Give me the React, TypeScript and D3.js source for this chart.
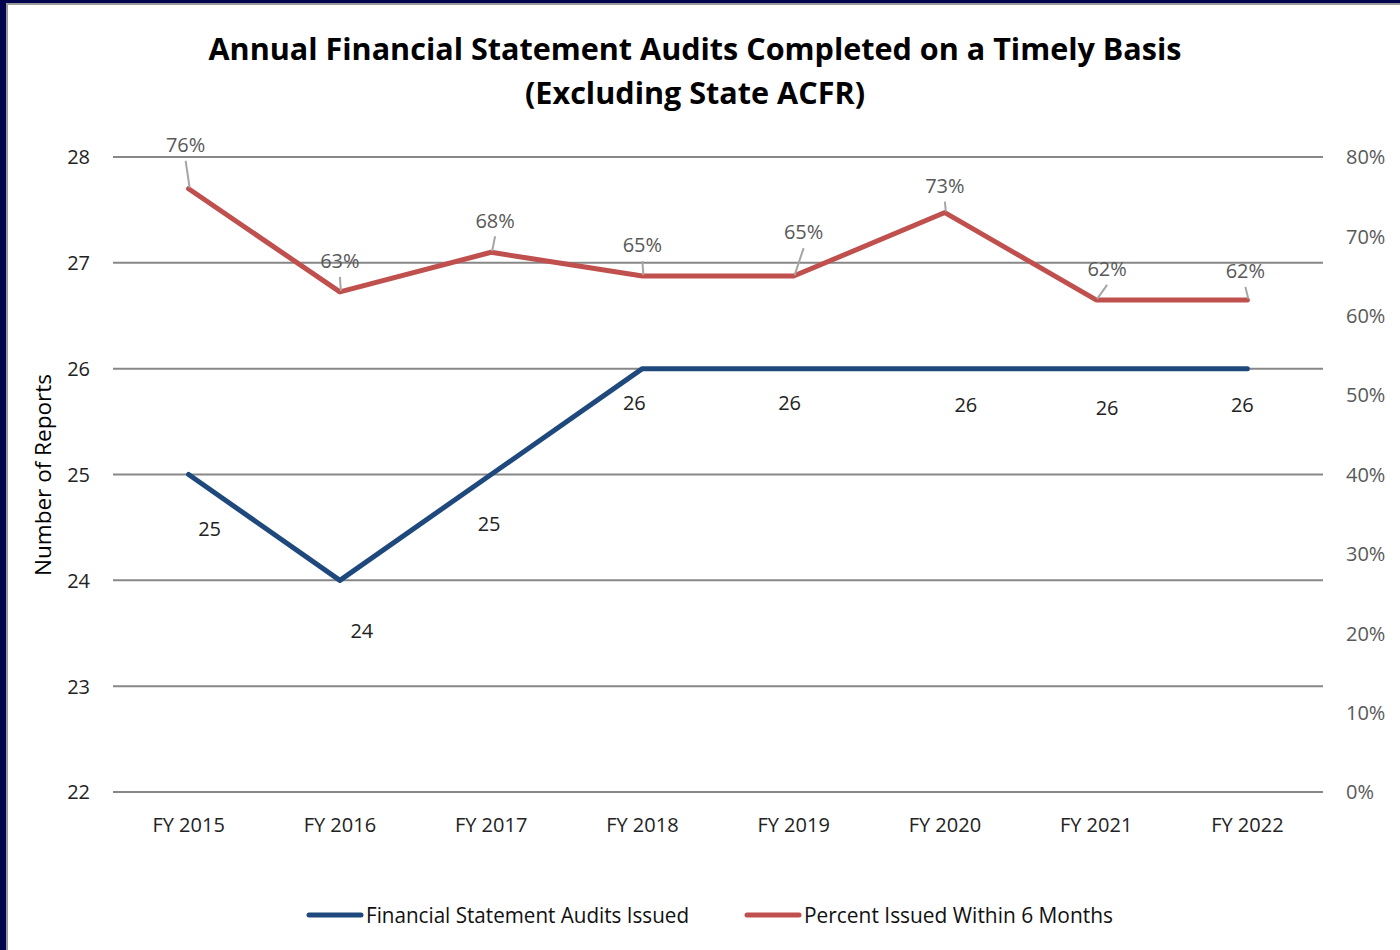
import React from "react";
import * as d3 from "d3";

const categories = ["FY 2015", "FY 2016", "FY 2017", "FY 2018", "FY 2019", "FY 2020", "FY 2021", "FY 2022"];
const auditsIssued = [25, 24, 25, 26, 26, 26, 26, 26];
const percentWithin6 = [0.76, 0.63, 0.68, 0.65, 0.65, 0.73, 0.62, 0.62];
const leftTicks = [22, 23, 24, 25, 26, 27, 28];
const rightTicks = [0, 0.1, 0.2, 0.3, 0.4, 0.5, 0.6, 0.7, 0.8];
const titleLines = ["Annual Financial Statement Audits Completed on a Timely Basis", "(Excluding State ACFR)"];
const seriesNames = ["Financial Statement Audits Issued", "Percent Issued Within 6 Months"];

// label placement offsets (layout only)
const blueLabelOffsets: [number, number][] = [[21, 54], [22, 50], [-2, 49], [-8, 34], [-4, 34], [21, 36], [11, 39], [-5, 36]];
const redLabelOffsets: [number, number][] = [[-3, -44], [0, -31], [4, -32], [0, -31], [10, -44], [0, -27], [11, -31], [-2, -29]];

const W = 1400;
const H = 950;
const FONT = "'Open Sans', 'Noto Sans', sans-serif";
const BLUE = "#1F497D";
const RED = "#C0504D";
const TY = 2; // text vertical nudge

export default function App() {
  const x = d3.scaleBand<string>().domain(categories).range([113, 1323]).padding(0);
  const cx = (c: string) => (x(c) as number) + x.bandwidth() / 2;
  const yL = d3.scaleLinear().domain([22, 28]).range([792, 157]);
  const yR = d3.scaleLinear().domain([0, 0.8]).range([792, 157]);

  const blueLine = d3.line<number>().x((_, i) => cx(categories[i])).y((d) => yL(d));
  const redLine = d3.line<number>().x((_, i) => cx(categories[i])).y((d) => yR(d));

  return (
    <div style={{ position: "fixed", left: 0, top: 0 }}>
      <svg width={W} height={H} style={{ display: "block" }} fontFamily={FONT}>
        <rect x={0} y={0} width={W} height={H} fill="#03034f" />
        <rect x={7} y={4} width={W} height={H} fill="#ffffff" stroke="#9a9a9a" strokeWidth={2} />

        {titleLines.map((t, i) => (
          <text key={t} x={695} y={50 + TY + i * 44} textAnchor="middle" dominantBaseline="middle" fontSize={30} fontWeight="bold" fill="#000" textLength={i === 0 ? 973 : 340} lengthAdjust="spacingAndGlyphs">
            {t}
          </text>
        ))}

        {leftTicks.map((t) => (
          <g key={t}>
            <line x1={113} x2={1323} y1={yL(t)} y2={yL(t)} stroke="#878787" strokeWidth={2} />
            <text x={90} y={yL(t) + TY} textAnchor="end" dominantBaseline="middle" fontSize={20} fill="#222">{t}</text>
          </g>
        ))}
        {rightTicks.map((t) => (
          <text key={t} x={1346} y={yR(t) + TY} textAnchor="start" dominantBaseline="middle" fontSize={20} fill="#595959">{d3.format(".0%")(t)}</text>
        ))}
        {categories.map((c) => (
          <text key={c} x={cx(c)} y={825 + TY} textAnchor="middle" dominantBaseline="middle" fontSize={20} fill="#222">{c}</text>
        ))}
        <text transform={`translate(45,475) rotate(-90)`} textAnchor="middle" dominantBaseline="middle" fontSize={21} fill="#000" textLength={202} lengthAdjust="spacingAndGlyphs">Number of Reports</text>

        <path d={blueLine(auditsIssued) || ""} fill="none" stroke={BLUE} strokeWidth={5} strokeLinejoin="round" strokeLinecap="round" />
        <path d={redLine(percentWithin6) || ""} fill="none" stroke={RED} strokeWidth={5} strokeLinejoin="round" strokeLinecap="round" />

        {auditsIssued.map((v, i) => {
          const px = cx(categories[i]);
          const py = yL(v);
          const [dx, dy] = blueLabelOffsets[i];
          return (
            <text key={i} x={px + dx} y={py + dy + TY} textAnchor="middle" dominantBaseline="middle" fontSize={20} fill="#222">{v}</text>
          );
        })}

        {percentWithin6.map((v, i) => {
          const px = cx(categories[i]);
          const py = yR(v);
          const [dx, dy] = redLabelOffsets[i];
          const lx = px + dx;
          const ly = py + dy;
          const ty = ly + 16;
          const showLeader = py - ty > 10;
          return (
            <g key={i}>
              {showLeader && <line x1={px + 1} y1={py - 1} x2={lx} y2={ty} stroke="#a6a6a6" strokeWidth={2} />}
              <text x={lx} y={ly + TY} textAnchor="middle" dominantBaseline="middle" fontSize={20} fill="#595959">{d3.format(".0%")(v)}</text>
            </g>
          );
        })}

        <g>
          <line x1={309} x2={361} y1={915} y2={915} stroke={BLUE} strokeWidth={5} strokeLinecap="round" />
          <text x={366} y={915 + TY} dominantBaseline="middle" fontSize={21} fill="#111" textLength={323} lengthAdjust="spacingAndGlyphs">{seriesNames[0]}</text>
          <line x1={747} x2={799} y1={915} y2={915} stroke={RED} strokeWidth={5} strokeLinecap="round" />
          <text x={804} y={915 + TY} dominantBaseline="middle" fontSize={21} fill="#111" textLength={309} lengthAdjust="spacingAndGlyphs">{seriesNames[1]}</text>
        </g>
      </svg>
    </div>
  );
}
